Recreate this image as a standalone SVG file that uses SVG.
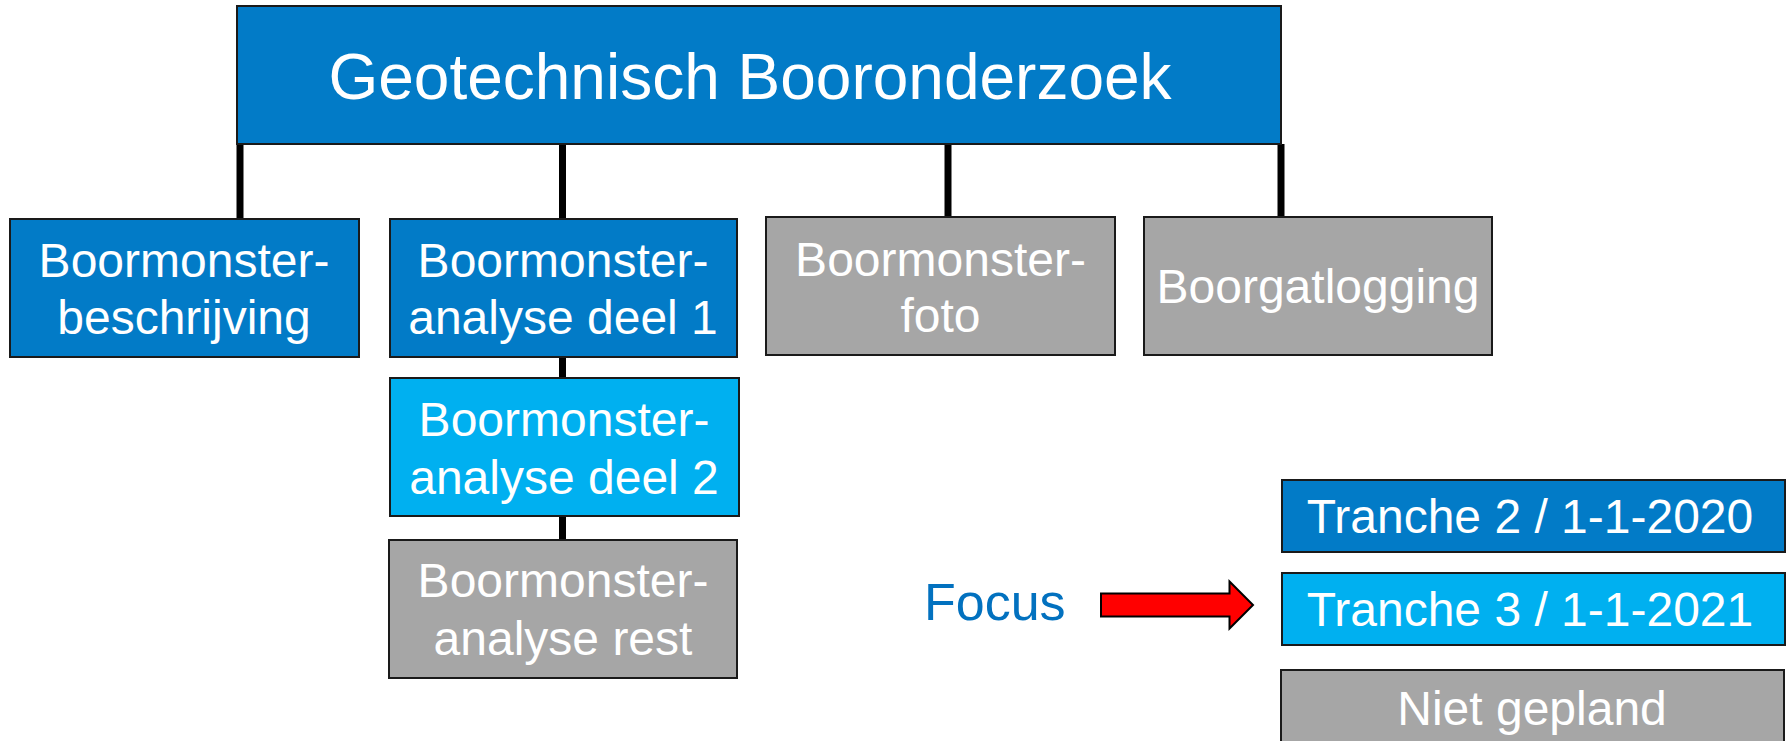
<svg xmlns="http://www.w3.org/2000/svg" width="1787" height="741" viewBox="0 0 1787 741">
<style>
.box{stroke:#1a1a1a;stroke-width:2}
.dark{fill:#027BC7}
.light{fill:#00B0F0}
.gray{fill:#A6A6A6}
.t{font-family:"Liberation Sans",Arial,sans-serif;fill:#ffffff;text-anchor:middle;font-size:48px}
.con{stroke:#000;stroke-width:7;fill:none}
</style>
<rect width="1787" height="741" fill="#ffffff"/>
<g id="connectors">
<line class="con" x1="240" y1="144" x2="240" y2="219"/>
<line class="con" x1="562.5" y1="144" x2="562.5" y2="219"/>
<line class="con" x1="948" y1="144" x2="948" y2="217"/>
<line class="con" x1="1281" y1="144" x2="1281" y2="217"/>
<line class="con" x1="562.5" y1="357" x2="562.5" y2="378"/>
<line class="con" x1="562.5" y1="516" x2="562.5" y2="540"/>
</g>
<g id="root">
<rect class="box dark" x="237" y="6" width="1044" height="138"/>
<text class="t" x="750" y="99" style="font-size:64px">Geotechnisch Booronderzoek</text>
</g>
<g id="beschrijving">
<rect class="box dark" x="10" y="219" width="349" height="138"/>
<text class="t" x="184" y="277">Boormonster-</text>
<text class="t" x="184" y="334">beschrijving</text>
</g>
<g id="analyse1">
<rect class="box dark" x="390" y="219" width="347" height="138"/>
<text class="t" x="563" y="277">Boormonster-</text>
<text class="t" x="563" y="334">analyse deel 1</text>
</g>
<g id="foto">
<rect class="box gray" x="766" y="217" width="349" height="138"/>
<text class="t" x="940.5" y="276">Boormonster-</text>
<text class="t" x="940.5" y="332">foto</text>
</g>
<g id="boorgatlogging">
<rect class="box gray" x="1144" y="217" width="348" height="138"/>
<text class="t" x="1318" y="303">Boorgatlogging</text>
</g>
<g id="analyse2">
<rect class="box light" x="390" y="378" width="349" height="138"/>
<text class="t" x="564" y="436">Boormonster-</text>
<text class="t" x="564" y="494">analyse deel 2</text>
</g>
<g id="analyserest">
<rect class="box gray" x="389" y="540" width="348" height="138"/>
<text class="t" x="563" y="597">Boormonster-</text>
<text class="t" x="563" y="655">analyse rest</text>
</g>
<g id="tranche2">
<rect class="box dark" x="1282" y="480" width="503" height="72"/>
<text class="t" x="1530" y="533">Tranche 2 / 1-1-2020</text>
</g>
<g id="tranche3">
<rect class="box light" x="1282" y="573" width="503" height="72"/>
<text class="t" x="1530" y="626">Tranche 3 / 1-1-2021</text>
</g>
<g id="nietgepland">
<rect class="box gray" x="1281" y="670" width="503" height="72"/>
<text class="t" x="1532" y="725">Niet gepland</text>
</g>
<g id="focus">
<text x="924" y="620" style="font-family:'Liberation Sans',Arial,sans-serif;font-size:52px;fill:#0271BF">Focus</text>
<polygon points="1101,593.5 1229.5,593.5 1229.5,581.5 1253,605 1229.5,628.5 1229.5,616.5 1101,616.5" fill="#FF0000" stroke="#000" stroke-width="2"/>
</g>
</svg>
